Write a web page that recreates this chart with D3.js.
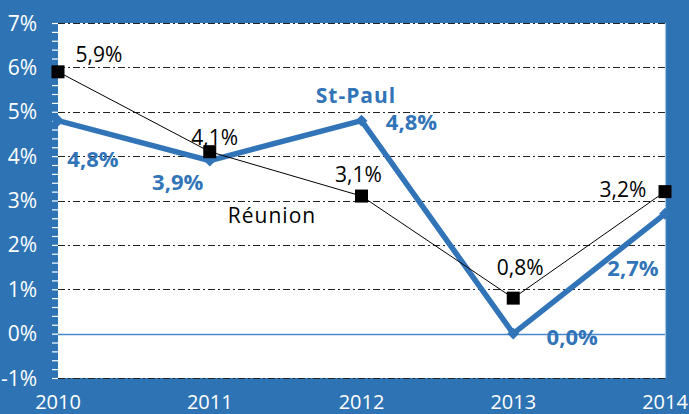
<!DOCTYPE html>
<html>
<head>
<meta charset="utf-8">
<script src="https://cdn.jsdelivr.net/npm/d3@7"></script>
<style>
  html, body { margin: 0; padding: 0; background: #2e74b5; }
  svg { display: block; }
  text { font-family: "Open Sans", Lato, sans-serif; }
</style>
</head>
<body>
<svg id="chart" width="689" height="414"></svg>
<script>
// Growth rates (%) by year
const years = [2010, 2011, 2012, 2013, 2014];
const stPaul = [4.8, 3.9, 4.8, 0.0, 2.7];
const reunion = [5.9, 4.1, 3.1, 0.8, 3.2];
const yTicks = [-1, 0, 1, 2, 3, 4, 5, 6, 7];

// Label placement relative to each point: [dx, dy]
const reunionLabelOffsets = [[41, -10], [5, -7], [-3, -14], [7, -23], [-42, 5]];
const stPaulLabelOffsets = [[35, 46], [-32, 29], [50, 9], [59, 11], [-32, 62]];

const W = 689, H = 414;
const plotLeft = 58, plotRight = 665, plotTop = 23, plotBottom = 378;
const bg = "#2e74b5", blue = "#3274b8";

const svg = d3.select("#chart");

const x = d3.scaleLinear().domain([2010, 2014]).range([plotLeft, plotRight]);
const y = d3.scaleLinear().domain([-1, 7]).range([plotBottom, plotTop]);

const fmt = v => d3.format(".1f")(v).replace(".", ",") + "%";

// Background and plot area
svg.append("rect").attr("width", W).attr("height", H).attr("fill", bg);
svg.append("rect")
  .attr("x", plotLeft).attr("y", y(7))
  .attr("width", plotRight - plotLeft).attr("height", y(-1) - y(7))
  .attr("fill", "#fff");

// Dash-dot horizontal gridlines
svg.append("g").selectAll("line")
  .data(yTicks.filter(d => d !== 0))
  .join("line")
  .attr("x1", plotLeft).attr("x2", plotRight)
  .attr("y1", d => Math.round(y(d)) + 0.5).attr("y2", d => Math.round(y(d)) + 0.5)
  .attr("stroke", "#222").attr("stroke-width", 1)
  .attr("stroke-dasharray", "7,3,2,3");

// Zero line
svg.append("line")
  .attr("x1", plotLeft - 6).attr("x2", plotRight)
  .attr("y1", Math.round(y(0)) + 0.5).attr("y2", Math.round(y(0)) + 0.5)
  .attr("stroke", "#4a89c9").attr("stroke-width", 1.5);

// Right border of plot area
svg.append("line")
  .attr("x1", plotRight + 0.5).attr("x2", plotRight + 0.5)
  .attr("y1", y(7)).attr("y2", y(-1))
  .attr("stroke", "#a9c3df").attr("stroke-width", 1.2);

// Y axis with minor ticks
const yAxis = d3.axisLeft(y)
  .tickValues(d3.range(-1, 7.0001, 0.2))
  .tickSize(6)
  .tickFormat("");
const ya = svg.append("g").attr("transform", `translate(${plotLeft},0)`).call(yAxis);
ya.select(".domain").remove();
ya.selectAll(".tick line").attr("stroke", "#fff").attr("stroke-width", 1.2);

svg.append("g").selectAll("text")
  .data(yTicks)
  .join("text")
  .attr("x", 37).attr("y", d => y(d))
  .attr("dy", "0.36em")
  .attr("text-anchor", "end")
  .attr("fill", "#fff")
  .attr("font-size", 21)
  .text(d => d + "%");

// X labels
svg.append("g").selectAll("text")
  .data(years)
  .join("text")
  .attr("x", d => x(d)).attr("y", 409)
  .attr("text-anchor", "middle")
  .attr("fill", "#fff")
  .attr("font-size", 20)
  .text(d => d);

const line = d3.line().x((d, i) => x(years[i])).y(d => y(d));

// St-Paul series
svg.append("path")
  .datum(stPaul)
  .attr("d", line)
  .attr("fill", "none")
  .attr("stroke", blue)
  .attr("stroke-width", 5.5)
  .attr("stroke-linejoin", "miter");

svg.append("g").selectAll("path")
  .data(stPaul)
  .join("path")
  .attr("transform", (d, i) => `translate(${x(years[i])},${y(d)})`)
  .attr("d", d3.symbol(d3.symbolDiamond2, 90))
  .attr("fill", blue);

// Réunion series
svg.append("path")
  .datum(reunion)
  .attr("d", line)
  .attr("fill", "none")
  .attr("stroke", "#000")
  .attr("stroke-width", 1);

svg.append("g").selectAll("rect")
  .data(reunion)
  .join("rect")
  .attr("x", (d, i) => x(years[i]) - 6.5)
  .attr("y", d => y(d) - 6.5)
  .attr("width", 13).attr("height", 13)
  .attr("fill", "#000");

// Value labels
svg.append("g").selectAll("text")
  .data(reunion)
  .join("text")
  .attr("x", (d, i) => x(years[i]) + reunionLabelOffsets[i][0])
  .attr("y", (d, i) => y(d) + reunionLabelOffsets[i][1])
  .attr("text-anchor", "middle")
  .attr("fill", "#000")
  .attr("font-size", 21)
  .text(fmt);

svg.append("g").selectAll("text")
  .data(stPaul)
  .join("text")
  .attr("x", (d, i) => x(years[i]) + stPaulLabelOffsets[i][0])
  .attr("y", (d, i) => y(d) + stPaulLabelOffsets[i][1])
  .attr("text-anchor", "middle")
  .attr("fill", blue)
  .attr("font-size", 22)
  .attr("font-weight", "bold")
  .text(fmt);

// Series names
svg.append("text")
  .attr("x", 356).attr("y", 103)
  .attr("text-anchor", "middle")
  .attr("fill", blue)
  .attr("font-size", 21)
  .attr("font-weight", "bold")
  .attr("letter-spacing", 1)
  .text("St-Paul");

svg.append("text")
  .attr("x", 272).attr("y", 223)
  .attr("text-anchor", "middle")
  .attr("fill", "#000")
  .attr("font-size", 21)
  .attr("letter-spacing", 1)
  .text("Réunion");
</script>
</body>
</html>
